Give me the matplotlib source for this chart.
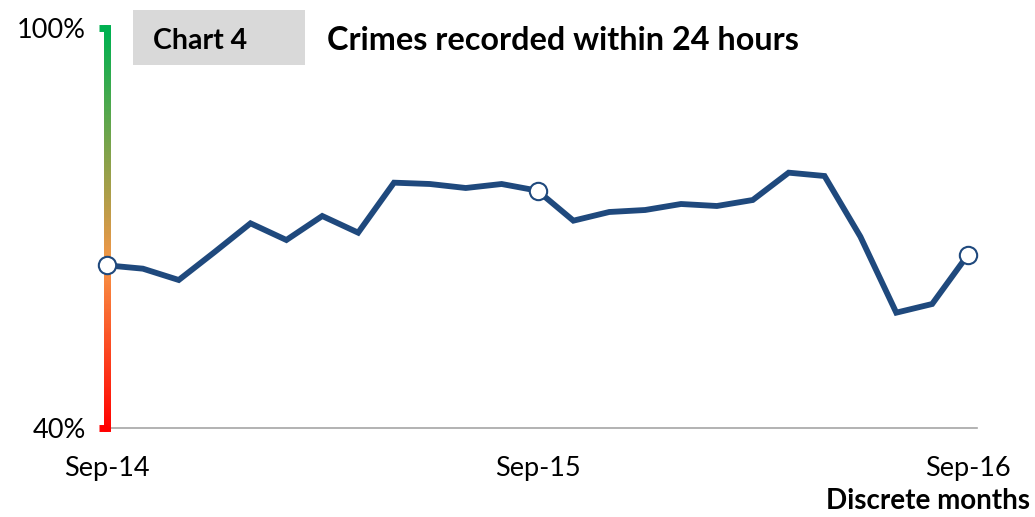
import matplotlib
matplotlib.use("Agg")
import matplotlib.pyplot as plt
import numpy as np
from matplotlib.collections import LineCollection
from matplotlib.colors import LinearSegmentedColormap
from matplotlib.patches import Rectangle

plt.rcParams['font.family'] = ['Lato', 'DejaVu Sans']

# ---- data ----
months = ["Sep-14", "Oct-14", "Nov-14", "Dec-14", "Jan-15", "Feb-15", "Mar-15", "Apr-15",
          "May-15", "Jun-15", "Jul-15", "Aug-15", "Sep-15", "Oct-15", "Nov-15", "Dec-15",
          "Jan-16", "Feb-16", "Mar-16", "Apr-16", "May-16", "Jun-16", "Jul-16", "Aug-16", "Sep-16"]
values = [64.4, 63.9, 62.2, 66.4, 70.7, 68.2, 71.8, 69.3, 76.8, 76.6, 76.0, 76.6, 75.6,
          71.1, 72.4, 72.7, 73.6, 73.3, 74.2, 78.3, 77.8, 68.7, 57.3, 58.6, 66.0]
marker_idx = [0, 12, 24]
xtick_idx = [0, 12, 24]
ytick_vals = [40, 100]
ytick_labels = ["40%", "100%"]

fig = plt.figure(figsize=(10.35, 5.17), dpi=100)
ax = fig.add_axes([107/1035, 1 - 428/517, (977 - 107)/1035, 400/517])

x = np.arange(len(values))
ax.set_xlim(0, 24.25)
ax.set_ylim(40, 100)

# gradient y-axis
cmap = LinearSegmentedColormap.from_list('rag', [(0, '#FF0000'), (0.42, '#F79646'), (1, '#00B050')])
yy = np.linspace(40, 100, 300)
pts = np.array([np.zeros_like(yy), yy]).T.reshape(-1, 1, 2)
segs = np.concatenate([pts[:-1], pts[1:]], axis=1)
lc = LineCollection(segs, colors=cmap(np.linspace(0, 1, len(segs))), lw=5,
                    clip_on=False, zorder=2, capstyle='projecting')
ax.add_collection(lc)
# coloured tick nubs
ytr = ax.get_yaxis_transform()
ax.plot([-0.009, 0], [ytick_vals[0]] * 2, color=cmap(0.0), lw=5, transform=ytr,
        clip_on=False, solid_capstyle='butt', zorder=2)
ax.plot([-0.009, 0], [ytick_vals[1]] * 2, color=cmap(1.0), lw=5, transform=ytr,
        clip_on=False, solid_capstyle='butt', zorder=2)

ax.plot(x, values, color='#1F497D', lw=4.2, solid_joinstyle='miter', zorder=3)
ax.plot(x[marker_idx], np.array(values)[marker_idx], 'o', ms=12.5, mfc='white',
        mec='#1F497D', mew=1.5, zorder=4, clip_on=False)

for s in ['top', 'right', 'left']:
    ax.spines[s].set_visible(False)
ax.spines['bottom'].set_color('#A6A6A6')
ax.spines['bottom'].set_linewidth(1.2)
ax.spines['bottom'].set_zorder(1)

ax.set_yticks(ytick_vals)
ax.set_yticklabels(ytick_labels, fontsize=19.5)
ax.tick_params(axis='y', length=0, pad=15)

ax.set_xticks(xtick_idx)
ax.set_xticklabels([months[i] for i in xtick_idx], fontsize=19.5)
ax.tick_params(axis='x', length=0, pad=20)

fig.text(1030/1035, 1 - 501/517, "Discrete months", ha='right', va='center',
         fontsize=20, fontweight='bold')

fig.patches.append(Rectangle((133/1035, 1 - 65/517), 172/1035, 55/517,
                             transform=fig.transFigure, facecolor='#D9D9D9', edgecolor='none'))
fig.text(153/1035, 1 - 41/517, "Chart 4", ha='left', va='center', fontsize=20.5, fontweight='bold')
fig.text(327/1035, 1 - 41/517, "Crimes recorded within 24 hours", ha='left', va='center',
         fontsize=23.3, fontweight='bold')

fig.savefig("out.png", dpi=100)
